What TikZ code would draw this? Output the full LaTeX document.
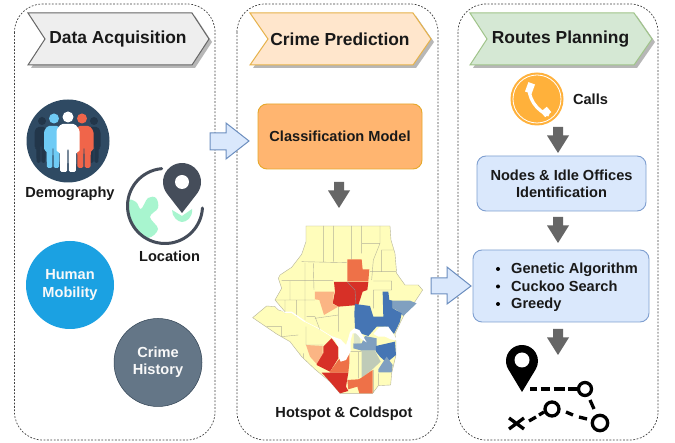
\documentclass[tikz,border=0pt]{standalone}
\usepackage{fontspec}
\setmainfont{Liberation Sans}
\definecolor{mapyel}{HTML}{FFFDBB}
\definecolor{mapred}{HTML}{D73027}
\definecolor{maporg}{HTML}{EE7148}
\definecolor{maplor}{HTML}{FBB584}
\definecolor{mapblu}{HTML}{4575B4}
\definecolor{mapgbl}{HTML}{80A0C0}
\definecolor{mapgre}{HTML}{BFCBB8}
\definecolor{mappal}{HTML}{DCE4C8}
\definecolor{mapedge}{HTML}{B5B39A}
\definecolor{darkicon}{HTML}{454D5A}
\definecolor{demobg}{HTML}{2F4A63}
\definecolor{demodark}{HTML}{22364A}
\definecolor{demoblue}{HTML}{6FCBF5}
\definecolor{demored}{HTML}{F0654A}
\definecolor{mint}{HTML}{A8F5CF}
\definecolor{mobil}{HTML}{1BA1E2}
\definecolor{hista}{HTML}{647687}
\definecolor{histb}{HTML}{314354}
\definecolor{clsfill}{HTML}{FFB570}
\definecolor{clsdraw}{HTML}{E6A82A}
\definecolor{bxfill}{HTML}{DAE8FC}
\definecolor{bxdraw}{HTML}{7F9FD0}
\definecolor{arrdraw}{HTML}{6C8EBF}
\definecolor{phone}{HTML}{FFB13B}
\definecolor{ban1f}{HTML}{EEEEEE}
\definecolor{ban1d}{HTML}{666666}
\definecolor{ban2f}{HTML}{FFE6CC}
\definecolor{ban2d}{HTML}{E6B24A}
\definecolor{ban3f}{HTML}{D5E8D4}
\definecolor{ban3d}{HTML}{A0C48A}
\tikzset{
 panel/.style={draw=black!75,line width=0.7pt,dash pattern=on 1.8pt off 1.6pt,rounded corners=28pt},
 banner/.style={line width=1pt,line join=miter},
 bannershadow/.style={fill=black!35,draw=none,opacity=.8},
 bannertext/.style={font=\fontsize{17.4}{20}\selectfont\bfseries,text=black!90},
 lbl/.style={font=\fontsize{14.6}{17.3}\selectfont\bfseries,text=black!90,align=center},
 wlbl/.style={font=\fontsize{14.6}{17.3}\selectfont\bfseries,text=white!95!gray,align=center},
 blockarrow/.style={fill=bxfill,draw=arrdraw,line width=1pt},
 fatdown/.style={fill=black!60,draw=none},
 softbox/.style={draw=#1,line width=.9pt,rounded corners=9pt},
 person/.style={fill=#1,draw=none,rounded corners=1.5pt},
 routeline/.style={line width=3.3pt,draw=black},
 mapline/.style={draw=mapedge,line width=.4pt},
}
\newcommand{\persn}[5]{\begin{scope}[shift={(#1,#2)},x=#3pt,y=-#4pt]
 \fill[person=#5] (-.6,0)--(.6,0)--(1,.12)--(1,.58)--(.72,.58)--(.68,1)--(.08,1)--(.04,.5)--(-.04,.5)--(-.08,1)--(-.68,1)--(-.72,.58)--(-1,.58)--(-1,.12)--cycle;
 \end{scope}}
\newcommand{\fatarrow}[2]{\fill[fatdown] (#1-5,#2)--(#1+5,#2)--(#1+5,#2+8.5)--(#1+11,#2+8.5)--(#1,#2+26)--(#1-11,#2+8.5)--(#1-5,#2+8.5)--cycle;}
\begin{document}
\begin{tikzpicture}[x=1pt,y=-1pt]
\useasboundingbox (0,0) rectangle (675,443);
\fill[white] (0,0) rectangle (675,443);
% panels
\draw[panel] (14.5,4) rectangle (215,440);
\draw[panel] (237,4) rectangle (438,440);
\draw[panel] (458,4) rectangle (658,440);
% banners
\fill[bannershadow] (31,16)--(195,16)--(212,42)--(195,68)--(31,68)--(48,42)--cycle;
\draw[banner,fill=ban1f,draw=ban1d] (28,13)--(192,13)--(209,39)--(192,65)--(28,65)--(45,39)--cycle;
\node[bannertext] (t1) at (118,39.5) {Data Acquisition};
\fill[bannershadow] (253,16)--(416,16)--(434,42)--(416,68)--(253,68)--(271,42)--cycle;
\draw[banner,fill=ban2f,draw=ban2d] (250,13)--(413,13)--(431,39)--(413,65)--(250,65)--(268,39)--cycle;
\node[bannertext] (t2) at (340,39.5) {Crime Prediction};
\fill[bannershadow] (473,16)--(637,16)--(655,42)--(637,68)--(473,68)--(490,42)--cycle;
\draw[banner,fill=ban3f,draw=ban3d] (470,13)--(634,13)--(652,39)--(634,65)--(470,65)--(487,39)--cycle;
\node[bannertext] (t3) at (560.5,39.5) {Routes Planning};
% demography icon
\fill[demobg] (68,141) circle (41.5pt);
\persn{41}{127}{6.5}{36}{demodark}
\persn{94}{127}{6.5}{36}{demodark}
\fill[demodark] (42,121) circle (4pt) (94,121) circle (4pt);
\persn{53}{126}{9}{42}{demoblue}
\persn{84}{126}{9.5}{42}{demored}
\fill[demoblue] (54,118.5) circle (5pt);
\fill[demored] (82,118.5) circle (5pt);
\persn{68}{124}{11.5}{48}{white}
\fill[white] (68,117) circle (5.5pt);
\node[lbl] (demo) at (70,194) {Demography};
% location icon
\begin{scope}
 \clip (165,206) circle (37pt);
 \fill[mint] plot[smooth cycle,tension=.6] coordinates {(128,202)(136,202)(141,209)(148,198)(156,198)(158,208)(150,217)(158,229)(148,238)(132,232)};
\end{scope}
\fill[mint] (172,210)--(182,216)--(192,209) .. controls (193,218) and (186,222) .. (182,222) .. controls (178,222) and (172,217) .. (172,210)--cycle;
\draw[darkicon,line width=3pt,line cap=round] ([shift={(95:37.5pt)}]165,206) arc[start angle=95,end angle=357,radius=37.5pt];
\fill[darkicon] ([shift={(218:19pt)}]182,182) arc[start angle=218,end angle=-38,radius=19pt] -- (182,213) -- cycle;
\fill[white] (182,182) circle (7pt);
\node[lbl] (loc) at (169.5,256) {Location};
% circles
\node[circle,fill=mobil,minimum size=88pt,inner sep=0pt,wlbl] (mob) at (70,285) {Human\\Mobility};
\node[circle,fill=hista,draw=histb,line width=.5pt,minimum size=88pt,inner sep=0pt,wlbl] (hist) at (158,362.5) {Crime\\History};
% classification
\node[softbox=clsdraw,fill=clsfill,minimum width=164pt,minimum height=65pt,inner sep=0pt,lbl] (cm) at (340,136.5) {Classification Model};
\fatarrow{339}{182}
% map
\begin{scope}[shift={(240,210)},x=.3333pt,y=-.3333pt]
 \def\outline{(198,48)--(450,48)--(453,90)--(465,130)--(470,190)--(495,225)--(535,225)--(548,240)--(525,275)--(495,310)--(480,340)--(465,372)--(468,395)--(468,435)--(455,490)--(452,525)--(415,527)--(398,550)--(300,550)--(270,515)--(225,478)--(185,440)--(150,395)--(110,372)--(38,323)--(80,288)--(105,290)--(115,300)--(135,305)--(105,270)--(125,235)--(115,205)--(120,195)--(155,172)--(185,133)--(198,95)--cycle}
 \fill[mapyel] \outline;
 \draw[mapline] \outline;
 \begin{scope}
 \clip \outline;
 \draw[mapline] (250,48)--(250,155) (280,48)--(280,155) (335,48)--(335,148) (365,48)--(365,130) (420,48)--(420,100)--(400,150)--(395,210)
  (185,155)--(320,158) (365,100)--(420,100) (425,120)--(470,120) (425,120)--(425,185) (390,185)--(470,185) (400,213)--(455,213)--(455,240)--(400,240)
  (220,160)--(222,240) (195,158)--(195,330) (150,212)--(150,270) (125,212)--(280,212) (105,270)--(225,270) (135,270)--(135,310) (170,270)--(170,320)
  (200,320)--(225,320)--(240,360) (80,350)--(125,350)--(125,385) (125,380)--(175,375) (130,385)--(150,440)
  (295,290)--(295,365) (225,325)--(295,315) (198,405)--(198,350) (198,405)--(250,405) (400,240)--(400,295) (355,425)--(355,505) (330,425)--(365,425) (400,480)--(400,550) (415,490)--(415,525) (180,430)--(180,460) (190,430)--(190,460);
 \end{scope}
 \fill[maporg] (322,148)--(365,148)--(368,178)--(388,178)--(385,214)--(322,214)--cycle;
 \fill[mapred] (282,216)--(385,216)--(382,240)--(368,245)--(355,285)--(295,290)--(278,280)--(285,245)--cycle;
 \draw[draw=black!45,line width=.4pt] (322,216)--(345,240)--(348,282);
 \fill[maplor] (225,245)--(282,245)--(278,282)--(295,290)--(252,315)--(238,270)--(225,268)--cycle;
 \fill[mapgbl] (458,272)--(510,272)--(530,280)--(490,318)--(470,300)--(458,295)--cycle;
 \fill[mapblu] (345,282)--(390,288)--(400,320)--(430,320)--(428,245)--(445,245)--(448,270)--(458,272)--(458,295)--(485,310)--(480,335)--(462,372)--(440,350)--(410,350)--(385,378)--(355,368)--(345,355)--(343,310)--cycle;
 \fill[mapgbl] (340,400)--(365,400)--(375,378)--(410,385)--(410,422)--(365,422)--(340,415)--cycle;
 \fill[mappal] (342,362)--(355,365)--(362,398)--(342,400)--cycle;
 \fill[mapblu] (408,408)--(465,395)--(468,435)--(440,458)--(420,440)--(408,425)--cycle;
 \fill[mapgbl] (440,440)--(458,465)--(455,487)--(415,487)--(415,478)--cycle;
 \fill[mapgre] (365,422)--(405,422)--(422,455)--(395,480)--(365,505)--cycle;
 \fill[mapred] (250,410)--(275,385)--(295,412)--(295,445)--(270,485)--(230,465)--(235,435)--(250,430)--cycle;
 \fill[maporg] (270,485)--(295,450)--(328,425)--(328,460)--(325,488)--(270,488)--cycle;
 \fill[mapred] (245,488)--(325,488)--(318,530)--(325,543)--(300,550)--(270,515)--cycle;
 \fill[maplor] (198,405)--(248,408)--(248,432)--(230,462)--(210,440)--cycle;
 \fill[maporg] (322,510)--(355,508)--(362,505)--(398,480)--(398,550)--(358,550)--(352,530)--(325,538)--cycle;
 % water
 \fill[white] (268,376)--(302,388)--(318,405)--(324,388)--(330,366)--(343,355)--(358,360)--(380,397)--(365,388)--(348,370)--(338,370)--(332,392)--(332,424)--(318,450)--(302,455)--(296,440)--(296,412)--(285,392)--cycle;
 \fill[white] (400,372)--(418,352)--(445,350)--(462,375)--(472,392)--(452,388)--(435,380)--(415,380)--cycle;
 \draw[white,line width=.7pt,line join=round] (108,290)--(135,307);
 \draw[white,line width=1.3pt,line join=round] (135,307)--(155,307)--(195,335);
 \draw[white,line width=.6pt,line join=round] (195,335)--(235,355)--(272,378);
\end{scope}
\node[lbl] (hc) at (344,414) {Hotspot \& Coldspot};
% phone
\fill[phone] (537,99) circle (26.5pt);
\draw[white,line width=.8pt] (537,99) circle (24pt);
\draw[white,line width=3.2pt] (530,84) .. controls (526,96) and (537,112) .. (549,115);
\fill[white,rotate around={-20:(530,88)}] (526.5,83) rectangle (533.5,93);
\fill[white,rotate around={-50:(546,112)}] (542.5,108) rectangle (549.5,116);
\node[lbl] (calls) at (590.5,99) {Calls};
\fatarrow{558}{127}
\node[softbox=bxdraw,fill=bxfill,minimum width=169pt,minimum height=55pt,inner sep=0pt,lbl] (nodes) at (561.5,183.5) {Nodes \& Idle Offices\\Identification};
\fatarrow{558}{217}
\node[softbox=bxdraw,fill=bxfill,minimum width=176pt,minimum height=72pt,inner sep=0pt] (algo) at (561,286) {};
\foreach \yy/\algtext [count=\i] in {269/Genetic Algorithm,286.5/Cuckoo Search,304/Greedy}{
 \fill[black] (498,\yy) circle (2pt);
 \node[lbl,anchor=base west,inner sep=0pt] (alg\i) at (511,\yy+5) {\algtext};
}
\fatarrow{558}{329}
% route icon
\fill[black] ([shift={(211:16pt)}]522,361) arc[start angle=211,end angle=-31,radius=16pt] -- (522,392) -- cycle;
\fill[white] (522,360) circle (7.5pt);
\coordinate (ra) at (585,389);
\coordinate (rb) at (600,423);
\coordinate (rc) at (552,409);
\coordinate (rx) at (517,423);
\draw[routeline] (530,389)--(537,389) (540.5,389)--(550,389) (553.5,389)--(565,389) (568,389)--(577,389);
\draw[routeline] (590,400)--(594,409);
\draw[routeline] (566,412)--(573,415) (579,417)--(587,419);
\draw[routeline] (529,421)--(536,417) (539,415)--(544,412);
\draw[black,line width=3.3pt,fill=white] (ra) circle (6.5pt) (rb) circle (7.7pt) (rc) circle (7pt);
\draw[black,line width=3.3pt] (509,418)--(524,429) (524,418)--(509,429);
% blue arrows
\draw[blockarrow] (210,133)--(226,133)--(226,123)--(249,141)--(226,159)--(226,150)--(210,150)--cycle;
\draw[blockarrow] (431,278)--(447,278)--(447,267)--(471,286)--(447,304)--(447,294)--(431,294)--cycle;
\end{tikzpicture}
\end{document}
